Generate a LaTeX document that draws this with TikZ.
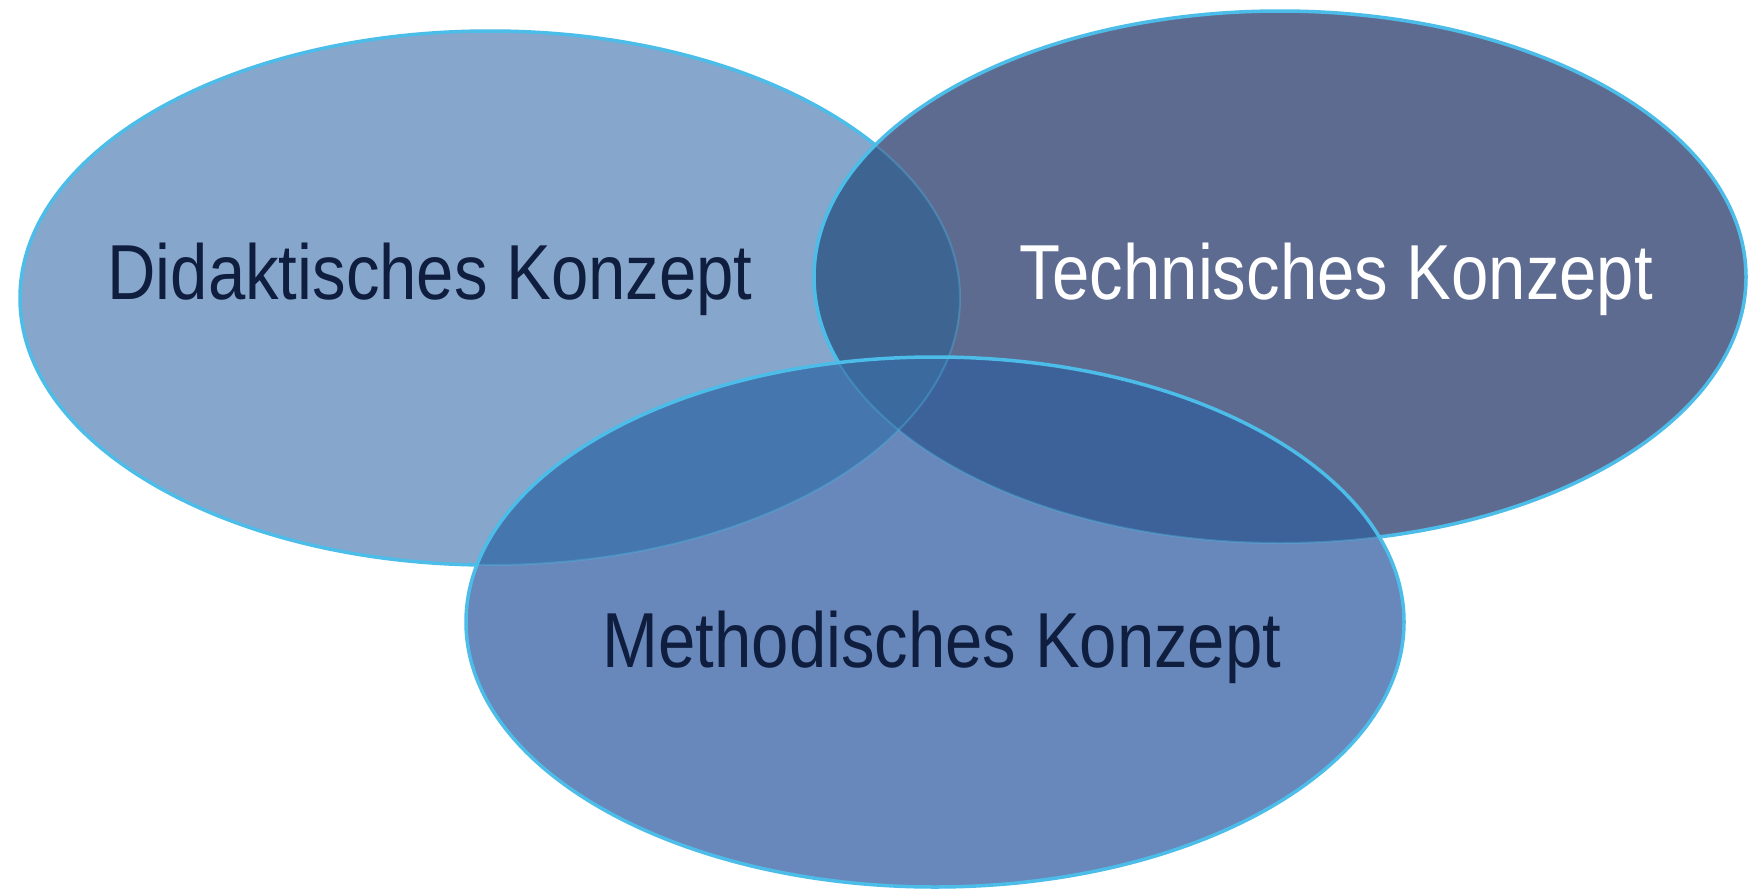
\documentclass[tikz,border=0pt]{standalone}
\usepackage{fontspec}
\setmainfont{Liberation Sans}
\newfontfamily\labelfont[FakeStretch=0.86]{Liberation Sans}
\begin{document}
\definecolor{colL}{HTML}{87A6CB}
\definecolor{colR}{HTML}{5E6B91}
\definecolor{colB}{HTML}{6887BA}
\definecolor{colLR}{HTML}{3E6492}
\definecolor{colLB}{HTML}{4576AD}
\definecolor{colRB}{HTML}{3C6299}
\definecolor{colLRB}{HTML}{3A6A9E}
\definecolor{rim}{HTML}{4CBCE8}
\definecolor{ink}{HTML}{0F1E3E}
\begin{tikzpicture}[x=1pt,y=-1pt,
  rimline/.style={draw=rim,line width=3.5pt},
  faintrim/.style={draw=rim,line width=2pt,draw opacity=0.35},
  lbl/.style={font=\labelfont\fontsize{78}{80}\selectfont,anchor=base,inner sep=0pt}]
\useasboundingbox (0,0) rectangle (1749,889);
\fill[white] (0,0) rectangle (1749,889);
% ellipse geometry
\def\ellL{(490,298) ellipse [x radius=470,y radius=267]}
\def\ellR{(1280,277) ellipse [x radius=466,y radius=266]}
\def\ellB{(935,622) ellipse [x radius=469,y radius=265]}
% left ellipse
\fill[colL] \ellL;
\draw[rimline] \ellL;
% right ellipse, overlapping the left one
\fill[colR] \ellR;
\begin{scope}
  \clip \ellR;
  \fill[colLR] \ellL;
  \draw[faintrim] \ellL;
\end{scope}
\draw[rimline] \ellR;
% bottom ellipse, on top of both
\fill[colB] \ellB;
\begin{scope}
  \clip \ellB;
  \fill[colLB] \ellL;
  \fill[colRB] \ellR;
  \begin{scope}
    \clip \ellL;
    \fill[colLRB] \ellR;
  \end{scope}
  \draw[faintrim] \ellL;
  \draw[faintrim] \ellR;
\end{scope}
\draw[rimline] \ellB;
% labels
\node[lbl,text=ink] (did) at (430,299) {Didaktisches Konzept};
\node[lbl,text=white] (tech) at (1336,299) {Technisches Konzept};
\node[lbl,text=ink] (meth) at (942,667) {Methodisches Konzept};
\end{tikzpicture}
\end{document}
